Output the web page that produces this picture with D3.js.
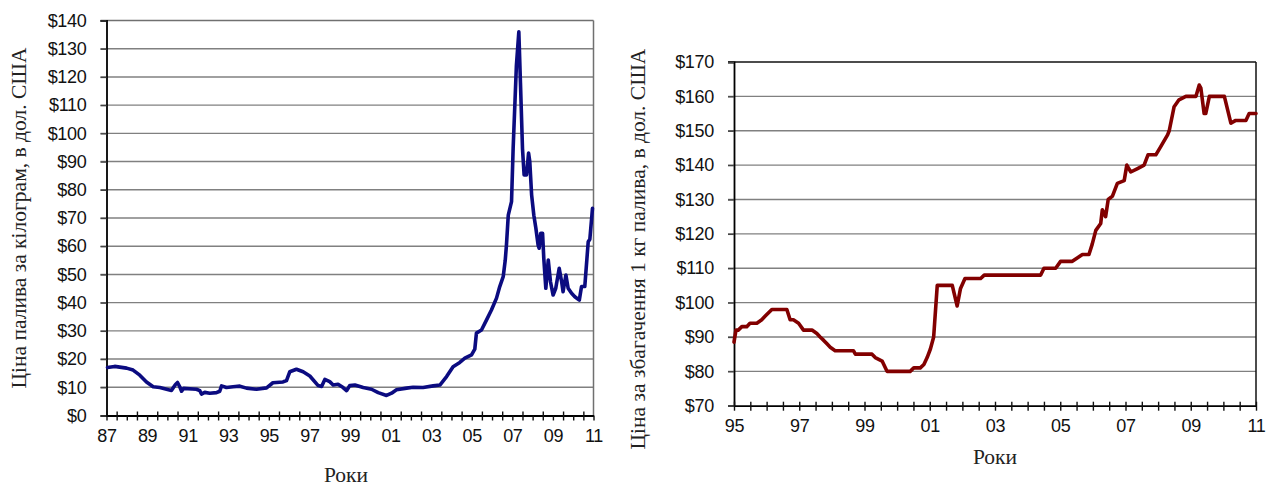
<!DOCTYPE html>
<html>
<head>
<meta charset="utf-8">
<script src="https://cdn.jsdelivr.net/npm/d3@7/dist/d3.min.js"></script>
<style>
  html, body { margin: 0; padding: 0; background: #fff; }
  svg { display: block; }
  .tick text { font-family: "Liberation Sans", Arial, sans-serif; font-size: 18px; fill: #111; letter-spacing: -0.3px; }
  .title { font-family: "Liberation Serif", "Times New Roman", serif; font-size: 21.5px; fill: #222; }
</style>
</head>
<body>
<svg id="chart" width="1271" height="486"></svg>
<script>
// ---------- Left chart: fuel price per kg (USD) ----------
const leftYears = [
  1987.05, 1987.40, 1987.99, 1988.31, 1988.64, 1988.97, 1989.30, 1989.63, 1989.96, 1990.20,
  1990.40, 1990.50, 1990.61, 1990.70, 1990.80, 1991.43, 1991.60, 1991.68, 1991.84, 1992.09,
  1992.42, 1992.58, 1992.67, 1992.91, 1993.24, 1993.57, 1993.90, 1994.39, 1994.89, 1995.20,
  1995.70, 1995.87, 1996.03, 1996.36, 1996.69, 1997.02, 1997.43, 1997.60, 1997.76, 1998.00,
  1998.17, 1998.41, 1998.66, 1998.83, 1998.99, 1999.24, 1999.65, 2000.06, 2000.39, 2000.80,
  2001.05, 2001.29, 2001.79, 2002.11, 2002.60, 2003.10, 2003.43, 2003.76, 2004.08, 2004.41,
  2004.66, 2004.99, 2005.15, 2005.23, 2005.48, 2005.73, 2005.97, 2006.22, 2006.38, 2006.55,
  2006.65, 2006.71, 2006.80, 2006.96, 2007.04, 2007.20, 2007.32, 2007.40, 2007.50, 2007.58,
  2007.70, 2007.80, 2007.86, 2007.95, 2008.06, 2008.16, 2008.27, 2008.32, 2008.40, 2008.49,
  2008.55, 2008.65, 2008.77, 2008.88, 2009.01, 2009.14, 2009.31, 2009.43, 2009.50, 2009.64,
  2009.75, 2009.92, 2010.08, 2010.30, 2010.41, 2010.57, 2010.74, 2010.82, 2010.95
];
const leftPrices = [
  17.0, 17.4, 16.8, 16.1, 14.3, 11.9, 10.2, 9.9, 9.3, 8.9,
  11.0, 11.7, 10.2, 8.6, 9.6, 9.3, 8.8, 7.6, 8.2, 7.9,
  8.1, 8.6, 10.5, 9.9, 10.2, 10.4, 9.7, 9.3, 9.8, 11.6,
  11.9, 12.4, 15.5, 16.4, 15.5, 14.0, 10.6, 10.3, 12.8, 12.0,
  10.8, 11.1, 9.9, 8.8, 10.6, 10.8, 9.9, 9.3, 8.1, 7.1,
  7.9, 9.1, 9.7, 10.0, 9.9, 10.5, 10.8, 13.8, 17.3, 18.8,
  20.3, 21.5, 23.5, 29.2, 30.3, 33.9, 37.4, 41.6, 45.7, 49.2,
  55.0, 60.4, 71.0, 75.8, 94.7, 124.0, 136.0, 118.0, 94.7, 85.3,
  85.3, 93.0, 90.0, 78.2, 71.0, 66.4, 60.4, 59.3, 64.6, 64.6,
  55.7, 45.1, 55.1, 47.4, 42.7, 45.1, 52.2, 47.4, 43.9, 49.8,
  45.1, 43.3, 42.1, 40.9, 45.7, 45.7, 61.6, 62.5, 73.4
];
const leftYTicks = [0, 10, 20, 30, 40, 50, 60, 70, 80, 90, 100, 110, 120, 130, 140];
const leftXTickLabels = ["87", "89", "91", "93", "95", "97", "99", "01", "03", "05", "07", "09", "11"];
const leftYTitle = "Ціна палива за кілограм, в дол. США";

// ---------- Right chart: enrichment cost per kg fuel (USD) ----------
const rightYears = [
  1995.00, 1995.06, 1995.13, 1995.24, 1995.39, 1995.49, 1995.70, 1995.85, 1995.95, 1996.16,
  1996.62, 1996.72, 1996.82, 1996.98, 1997.13, 1997.39, 1997.54, 1997.64, 1997.75, 1997.85,
  1997.95, 1998.10, 1998.66, 1998.72, 1999.23, 1999.33, 1999.54, 1999.69, 2000.40, 2000.51,
  2000.71, 2000.82, 2000.92, 2001.02, 2001.12, 2001.23, 2001.69, 2001.84, 2001.94, 2002.08,
  2002.56, 2002.67, 2004.40, 2004.50, 2004.86, 2005.01, 2005.37, 2005.52, 2005.68, 2005.88,
  2005.98, 2006.09, 2006.24, 2006.29, 2006.39, 2006.47, 2006.60, 2006.75, 2006.96, 2007.04,
  2007.16, 2007.37, 2007.57, 2007.69, 2007.93, 2008.08, 2008.29, 2008.34, 2008.49, 2008.64,
  2008.85, 2009.16, 2009.26, 2009.31, 2009.41, 2009.46, 2009.57, 2010.03, 2010.23, 2010.38,
  2010.69, 2010.79, 2011.00
];
const rightCosts = [
  88.5, 92.0, 92.0, 93.0, 93.0, 94.0, 94.0, 95.0, 96.0, 98.0,
  98.0, 95.0, 95.0, 94.0, 92.0, 92.0, 91.0, 90.0, 89.0, 88.0,
  87.0, 86.0, 86.0, 85.0, 85.0, 84.0, 83.0, 80.0, 80.0, 81.0,
  81.0, 82.0, 84.0, 86.5, 90.0, 105.0, 105.0, 99.0, 104.0, 107.0,
  107.0, 108.0, 108.0, 110.0, 110.0, 112.0, 112.0, 113.0, 114.0, 114.0,
  117.0, 121.0, 123.0, 127.0, 125.0, 130.0, 131.0, 134.7, 135.5, 140.0,
  138.0, 139.0, 140.0, 143.0, 143.0, 145.4, 148.8, 150.0, 157.0, 159.0,
  160.0, 160.0, 163.3, 162.4, 155.0, 155.0, 160.0, 160.0, 152.2, 153.0,
  153.0, 155.0, 155.0
];
const rightYTicks = [70, 80, 90, 100, 110, 120, 130, 140, 150, 160, 170];
const rightXTickLabels = ["95", "97", "99", "01", "03", "05", "07", "09", "11"];
const rightYTitle = "Ціна за збагачення 1 кг палива, в дол. США";
const xAxisTitle = "Роки";

const svg = d3.select("#chart");

function halfYearTicks(start, end) {
  const t = [];
  for (let v = start; v <= end + 1e-9; v += 0.5) t.push(v);
  return t;
}

function drawChart(cfg) {
  const { x0, x1, y0, y1, years, values, yDomain, yTicks, xStart, xEnd, xLabels,
          color, frameColor, yTitle, yTitleX, yTitleY, xTitleX, xTitleY, tickStyle } = cfg;
  const x = d3.scaleLinear().domain([xStart, xEnd]).range([x0, x1]);
  const y = d3.scaleLinear().domain(yDomain).range([y1, y0]);
  const g = svg.append("g");

  // gridlines (with outer tick stub on the left)
  g.append("g").selectAll("line").data(yTicks.filter(d => d !== yDomain[0] && d !== yDomain[1]))
    .join("line")
    .attr("x1", x0 - 6).attr("x2", x1)
    .attr("y1", d => y(d)).attr("y2", d => y(d))
    .attr("stroke", "#808080").attr("stroke-width", 1.4);

  // frame top and right
  g.append("line").attr("x1", x0 - 6).attr("x2", x1).attr("y1", y0).attr("y2", y0)
    .attr("stroke", frameColor).attr("stroke-width", 1.5);
  g.append("line").attr("x1", x1).attr("x2", x1).attr("y1", y0).attr("y2", y1)
    .attr("stroke", frameColor).attr("stroke-width", 1.5);

  // y axis
  const yAxis = d3.axisLeft(y).tickValues(yTicks).tickSize(6).tickPadding(14)
    .tickFormat(d => "$" + d);
  const ya = g.append("g").attr("transform", `translate(${x0},0)`).call(yAxis);
  ya.select(".domain").attr("stroke", "#000").attr("stroke-width", 1.8);
  ya.selectAll(".tick line").attr("stroke", "#444").attr("stroke-width", 1.4);

  // x axis
  const labelMap = new Map();
  xLabels.forEach((lab, i) => labelMap.set(xStart + 2 * i, lab));
  const xAxis = d3.axisBottom(x).tickValues(halfYearTicks(xStart, xEnd)).tickSize(5)
    .tickSizeOuter(0).tickPadding(9)
    .tickFormat(d => labelMap.has(d) ? labelMap.get(d) : "");
  const xa = g.append("g").attr("transform", `translate(0,${y1})`).call(xAxis);
  xa.select(".domain").attr("stroke", "#000").attr("stroke-width", 1.8);
  xa.selectAll(".tick line")
    .attr("y1", d => tickStyle === "alt" && Number.isInteger(d) && d !== xStart ? 0 : -4)
    .attr("y2", 5).attr("stroke", "#111").attr("stroke-width", 1.4);

  // data line
  const pts = years.map((yr, i) => [yr, values[i]]);
  const line = d3.line().x(d => x(d[0])).y(d => y(d[1]));
  g.append("path").datum(pts)
    .attr("fill", "none").attr("stroke", color).attr("stroke-width", 3.6)
    .attr("stroke-linejoin", "round").attr("stroke-linecap", "round")
    .attr("d", line);

  // titles
  g.append("text").attr("class", "title")
    .attr("transform", `translate(${yTitleX},${yTitleY}) rotate(-90)`)
    .attr("text-anchor", "middle").attr("dominant-baseline", "central")
    .text(yTitle);
  g.append("text").attr("class", "title")
    .attr("x", xTitleX).attr("y", xTitleY).attr("text-anchor", "middle")
    .text(xAxisTitle);
}

drawChart({
  x0: 106.5, x1: 593.5, y0: 20.5, y1: 415.5,
  years: leftYears, values: leftPrices, yDomain: [0, 140], yTicks: leftYTicks,
  xStart: 1987, xEnd: 2011, xLabels: leftXTickLabels,
  color: "#0b0b80", frameColor: "#707070", tickStyle: "alt",
  yTitle: leftYTitle, yTitleX: 19, yTitleY: 218, xTitleX: 346, xTitleY: 482
});

drawChart({
  x0: 734, x1: 1256, y0: 62, y1: 405.7,
  years: rightYears, values: rightCosts, yDomain: [70, 170], yTicks: rightYTicks,
  xStart: 1995, xEnd: 2011, xLabels: rightXTickLabels,
  color: "#820000", frameColor: "#111", tickStyle: "cross",
  yTitle: rightYTitle, yTitleX: 638, yTitleY: 249, xTitleX: 995, xTitleY: 464
});
</script>
</body>
</html>
